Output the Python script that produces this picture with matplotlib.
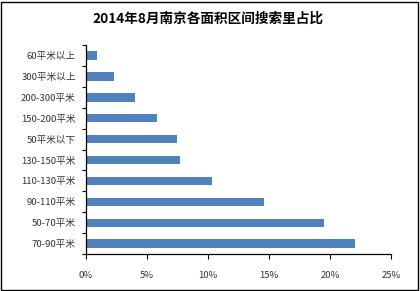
import matplotlib
matplotlib.use("Agg")
import matplotlib.pyplot as plt
from matplotlib.patches import Rectangle
from matplotlib.ticker import FixedLocator, PercentFormatter
import numpy as np

plt.rcParams['font.family'] = ['Noto Sans CJK SC', 'DejaVu Sans']

title = "2014年8月南京各面积区间搜索里占比"
categories = ["70-90平米", "50-70平米", "90-110平米", "110-130平米", "130-150平米",
              "50平米以下", "150-200平米", "200-300平米", "300平米以上", "60平米以上"]
values = [22.05, 19.5, 14.6, 10.35, 7.73, 7.49, 5.85, 4.05, 2.33, 0.92]
xticks = [0, 5, 10, 15, 20, 25]

fig = plt.figure(figsize=(4.2, 2.91), dpi=100)
ax = fig.add_axes([0.2036, 0.127, 0.7274, 0.718])

y = np.arange(len(categories))
ax.barh(y, values, height=0.4, color="#4F81BD")
ax.set_xlim(0, 25)
ax.set_ylim(-0.5, len(categories) - 0.5)

ax.set_xticks(xticks)
ax.xaxis.set_major_formatter(PercentFormatter(decimals=0))
ax.tick_params(axis='x', direction='out', length=3.5, width=0.8, pad=9,
               labelsize=6.8, colors='black', labelcolor='#333333')

ax.yaxis.set_major_locator(FixedLocator(np.arange(-0.5, len(categories), 1.0)))
ax.yaxis.set_major_formatter(plt.NullFormatter())
ax.set_yticks(y, minor=True)
ax.set_yticklabels(categories, minor=True)
ax.tick_params(axis='y', which='major', direction='out', length=3, width=0.8)
ax.tick_params(axis='y', which='minor', length=0, pad=7, labelsize=6.9, labelcolor='#333333')

for s in ['top', 'right']:
    ax.spines[s].set_visible(False)
for s in ['left', 'bottom']:
    ax.spines[s].set_linewidth(0.9)

fig.text(0.495, 0.935, title, ha='center', va='center', fontsize=9.8, fontweight='bold')

fig.patches.append(Rectangle((0.003, 0.004), 0.992, 0.99, transform=fig.transFigure,
                             fill=False, edgecolor='black', linewidth=1.0))

fig.savefig("out.png", dpi=100)
